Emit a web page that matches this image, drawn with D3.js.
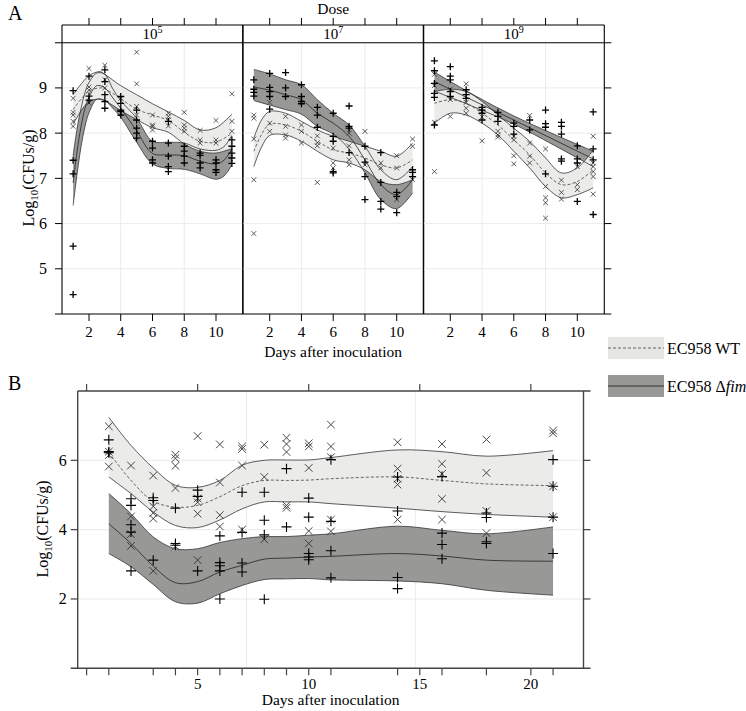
<!DOCTYPE html>
<html><head><meta charset="utf-8">
<script src="https://cdn.jsdelivr.net/npm/d3@7"></script>
<style>
body{margin:0;background:#fff}
svg{font-family:"Liberation Serif","DejaVu Serif",serif}
</style>
</head><body>
<svg id="chart" width="746" height="711"></svg>
<script>
// ---------------- DATA ----------------
const doseLabels = ["5", "7", "9"];           // 10^x
const daysA = [1,2,3,4,5,6,7,8,9,10,11];
const xTicksA = [2,4,6,8,10];
const yTicksA = [5,6,7,8,9];
const xGridA = [4,8];

// observed points (values per day, days 1..11)
const wt5 = [[8.77,8.46,8.40,8.26,8.15],[9.43,9.02,8.95,8.67],[9.5,9.18,9.0],[8.77,8.44],[9.79,9.09,8.59,8.40],[8.4,8.18,8.15,8.07],[8.44,8.37,8.29,8.16],[8.46,8.18,8.11,8.04],[8.06,7.85,7.78],[8.28,7.85,7.78],[8.87,8.26,8.04]];
const fim5 = [[8.94,7.40,7.10,5.50,4.43],[9.26,8.82,8.73],[9.4,9.14,8.85,8.7,8.55],[8.81,8.66,8.51,8.48,8.4],[8.51,8.29,8.11,8.0,7.89],[7.82,7.67,7.41,7.34],[8.26,7.78,7.49,7.26,7.15],[7.71,7.6,7.49,7.34],[7.56,7.51,7.34,7.23],[7.41,7.34,7.19,7.13],[7.85,7.71,7.56,7.45,7.33]];
const wt7 = [[8.40,8.33,7.87,6.97,5.78],[8.68,8.22,8.04],[8.37,8.15,7.96,7.89],[8.18,8.04,7.78],[7.94,7.79,7.72,6.91],[7.67,7.34,7.23],[8.0,7.72,7.41,7.30],[8.04,7.3],[7.34,7.23],[7.5,7.23,6.53],[7.87,7.71,6.97]];
const fim7 = [[9.18,8.97,8.9,8.82],[9.32,9.01,8.92,8.81,8.53],[9.34,9.0,8.81],[9.07,8.81,8.7,8.65],[8.57,8.4,8.13],[8.44,7.93,7.82,7.15,7.12],[8.6,8.15,8.11,7.57],[7.71,7.36,7.04,6.53],[7.57,6.91,6.49,6.32],[6.69,6.6,6.24],[7.19,7.13,7.04]];
const wt9 = [[9.3,9.05,8.24,7.15],[8.97,8.74,8.37],[9.09,8.68,8.55,8.44],[8.48,8.36,7.83],[8.04,7.96,7.91],[7.93,7.85,7.5,7.32],[8.39,7.78,7.49,7.34],[7.65,6.82,6.57,6.46,6.12],[6.96,6.69,6.54],[7.26,6.86,6.75],[7.93,7.34,7.26,7.15,7.04,6.65]];
const fim9 = [[9.6,9.38,9.1,8.88,8.79,8.18],[9.47,9.26,9.18,8.92,8.81],[8.96,8.85,8.77],[8.57,8.51,8.44,8.29],[8.46,8.37,8.26],[8.22,8.15,7.98],[8.29,8.07],[8.51,8.21,8.13,7.1],[8.24,8.15,7.98,7.43,7.38],[7.72,7.43,7.34,6.49],[8.47,7.65,7.41,6.2]];

// fitted curves (smooth + confidence band)
const fitWt5Days = [1,2,2.7,3,4,5,6,7,8,9,10,11];
const fitWt5Up   = [8.85,9.27,9.36,9.3,9.05,8.85,8.65,8.47,8.28,8.07,8.12,8.42];
const fitWt5Mid  = [8.52,8.93,9.0,8.98,8.76,8.53,8.4,8.28,8.02,7.82,7.8,8.0];
const fitWt5Lo   = [8.2,8.7,8.75,8.72,8.5,8.3,8.12,8.02,7.76,7.6,7.56,7.66];
const fitFim5Days = [1,1.25,1.5,1.75,2,2.5,3,3.5,4,5,6,7,8,9,10,10.5,11];
const fitFim5Up   = [7.5,8.1,8.55,8.9,9.12,9.33,9.3,8.98,8.72,8.33,7.82,7.8,7.78,7.65,7.62,7.7,7.95];
const fitFim5Mid  = [6.9,7.6,8.15,8.55,8.8,9.05,9.0,8.78,8.55,8.05,7.55,7.52,7.5,7.38,7.32,7.4,7.65];
const fitFim5Lo   = [6.4,7.1,7.7,8.15,8.45,8.75,8.72,8.55,8.35,7.8,7.32,7.22,7.2,7.1,6.98,7.05,7.3];

const fitWt7Days = [1,1.5,2,3,4,5,6,7,8,9,10,11];
const fitWt7Up   = [7.89,8.3,8.48,8.44,8.26,8.07,7.93,7.82,7.71,7.6,7.49,7.78];
const fitWt7Mid  = [7.6,7.98,8.2,8.18,8.04,7.82,7.63,7.56,7.45,7.3,7.23,7.41];
const fitWt7Lo   = [7.26,7.7,7.95,7.96,7.82,7.6,7.41,7.34,7.19,6.93,6.86,6.97];
const fitFim7Days = [1,2,3,4,5,6,7,8,9,10,11];
const fitFim7Up   = [9.41,9.31,9.18,9.07,8.74,8.44,8.18,7.71,7.19,6.97,7.26];
const fitFim7Mid  = [9.02,8.95,8.85,8.74,8.44,8.22,7.93,7.41,6.86,6.64,6.97];
const fitFim7Lo   = [8.72,8.62,8.52,8.42,8.15,7.98,7.65,7.12,6.53,6.33,6.68];

const fitWt9Days = [1,2,3,4,5,6,7,8,9,10,11];
const fitWt9Up   = [8.92,8.97,8.92,8.7,8.4,8.11,7.82,7.45,7.12,7.23,7.63];
const fitWt9Mid  = [8.66,8.74,8.66,8.44,8.18,7.85,7.52,7.12,6.86,6.93,7.19];
const fitWt9Lo   = [8.22,8.44,8.4,8.22,7.96,7.6,7.23,6.82,6.57,6.64,6.79];
const fitFim9Days = [1,3.5,6,8.5,11];
const fitFim9Up   = [9.35,8.84,8.38,7.98,7.6];
const fitFim9Mid  = [9.14,8.71,8.29,7.86,7.43];
const fitFim9Lo   = [8.93,8.58,8.20,7.74,7.26];

// Panel B
const daysB = [1,2,3,4,5,6,7,8,9,10,11,14,16,18,21];
const xTicksB = [5,10,15,20];
const xTopTicksB = [0,5,10,15,20];
const xMinorTicksB = [0,1,3,4,6,7,8,9,11,14,16,18,21];
const yTicksB = [2,4,6];
const xGridB = [7.2,14.8];
const wtB = [[6.98,6.25,6.15,5.82],[5.85,4.38,3.87,3.53],[5.56,4.67,4.48,4.32,2.81],[6.16,6.06,5.84,5.2,3.52],[6.7,4.9,4.79,4.46,3.12],[6.46,5.36,4.42,4.09],[6.40,6.33,5.85,4.0],[6.45,5.52,3.72],[6.65,6.47,6.24,4.70,4.63],[6.49,6.40,5.78,3.96,3.6],[7.03,6.40,6.09,4.29,3.95],[6.52,5.76,5.47,5.3,4.29],[6.47,5.9,5.61,4.89,4.29],[6.6,5.64,4.54,3.9],[6.86,6.78,5.25,4.36]];
const fimB = [[6.59,6.25,6.22],[4.89,4.70,4.14,3.93,2.81],[4.92,4.84,3.12],[4.62,3.6,3.55],[5.14,4.96,2.81],[3.82,3.05,2.96,2.81,2.0],[5.08,3.92,3.04,2.78],[5.08,4.27,3.85,1.99],[5.76,4.08],[4.91,4.36,3.31,3.21,3.13],[6.02,4.24,3.39,2.61],[5.52,4.54,2.62,2.30],[5.53,3.9,3.57,3.16],[4.48,4.35,3.65,3.6],[6.02,5.25,4.36,3.31]];
const fitWtBUp  = [7.24,6.43,5.78,5.28,5.22,5.42,5.86,6.0,6.01,6.01,6.08,6.3,6.25,6.12,6.28];
const fitWtBMid = [6.23,5.42,4.82,4.65,4.7,4.95,5.27,5.42,5.42,5.43,5.47,5.52,5.42,5.32,5.27];
const fitWtBLo  = [5.52,5.04,4.51,4.12,4.06,4.28,4.6,4.8,4.8,4.8,4.75,4.62,4.52,4.44,4.36];
const fitFimBUp  = [5.04,4.46,3.79,3.45,3.45,3.63,3.74,3.8,3.8,3.84,3.88,4.1,3.98,3.88,4.08];
const fitFimBMid = [4.17,3.6,2.95,2.47,2.5,2.78,2.97,3.15,3.18,3.21,3.23,3.31,3.24,3.12,3.09];
const fitFimBLo  = [3.31,2.93,2.42,1.92,1.88,2.15,2.39,2.56,2.58,2.59,2.55,2.52,2.44,2.25,2.11];

const legendLabels = ["EC958 WT", "EC958 \u0394", "fim"];

// ---------------- STYLE ----------------
const lightFill = "#ebebe9", darkFill = "#989896";
const svg = d3.select("#chart");

function toPts(days, vals){ return vals.flatMap((arr,i)=>arr.map(v=>({d:days[i], v}))); }
function toCurve(days, up, mid, lo){ return days.map((d,i)=>({d, up:up[i], mid:mid[i], lo:lo[i]})); }
const plusPath = (x,y,r)=>`M${x-r},${y}H${x+r}M${x},${y-r}V${y+r}`;
const crossPath = (x,y,r)=>`M${x-r},${y-r}L${x+r},${y+r}M${x-r},${y+r}L${x+r},${y-r}`;

function drawFits(g, x, y, wtC, fimC){
  const curve = d3.curveCatmullRom.alpha(0.5);
  const area = d3.area().x(d=>x(d.d)).y0(d=>y(d.lo)).y1(d=>y(d.up)).curve(curve);
  const lineU = d3.line().x(d=>x(d.d)).y(d=>y(d.up)).curve(curve);
  const lineL = d3.line().x(d=>x(d.d)).y(d=>y(d.lo)).curve(curve);
  const lineM = d3.line().x(d=>x(d.d)).y(d=>y(d.mid)).curve(curve);
  g.append("path").datum(fimC).attr("d",area).attr("fill",darkFill);
  g.append("path").datum(wtC).attr("d",area).attr("fill",lightFill);
  [fimC, wtC].forEach((c,k)=>{
    g.append("path").datum(c).attr("d",lineU).attr("fill","none").attr("stroke","#333").attr("stroke-width",0.8);
    g.append("path").datum(c).attr("d",lineL).attr("fill","none").attr("stroke","#333").attr("stroke-width",0.8);
    g.append("path").datum(c).attr("d",lineM).attr("fill","none").attr("stroke", k?"#444":"#222")
      .attr("stroke-width",0.8).attr("stroke-dasharray", k?"3,2":null);
  });
}
function drawPoints(g, x, y, wtP, fimP, rPlus, rCross, swP, swC){
  g.selectAll(null).data(wtP).join("path").attr("d",d=>crossPath(x(d.d),y(d.v),rCross))
    .attr("stroke","#333").attr("stroke-width",swC).attr("fill","none");
  g.selectAll(null).data(fimP).join("path").attr("d",d=>plusPath(x(d.d),y(d.v),rPlus))
    .attr("stroke","#000").attr("stroke-width",swP).attr("fill","none");
}

// ---------------- PANEL A ----------------
const panelLefts = [62, 242.7, 423.3];
const panelW = 181;
const topA = 42.7, botA = 314, stripTop = 25;
const yA = d3.scaleLinear().domain([4,10]).range([botA, topA]);
const pointsA = [[wt5,fim5],[wt7,fim7],[wt9,fim9]];
const fitsA = [
  [toCurve(fitWt5Days,fitWt5Up,fitWt5Mid,fitWt5Lo), toCurve(fitFim5Days,fitFim5Up,fitFim5Mid,fitFim5Lo)],
  [toCurve(fitWt7Days,fitWt7Up,fitWt7Mid,fitWt7Lo), toCurve(fitFim7Days,fitFim7Up,fitFim7Mid,fitFim7Lo)],
  [toCurve(fitWt9Days,fitWt9Up,fitWt9Mid,fitWt9Lo), toCurve(fitFim9Days,fitFim9Up,fitFim9Mid,fitFim9Lo)]
];
const gA = svg.append("g");
panelLefts.forEach((L,i)=>{
  const x = d3.scaleLinear().domain([0.3,11.7]).range([L, L+panelW]);
  const g = gA.append("g");
  const cp = "clipA"+i;
  svg.append("clipPath").attr("id",cp).append("rect").attr("x",L).attr("y",topA).attr("width",panelW).attr("height",botA-topA);
  // grid
  g.selectAll(null).data(yTicksA).join("line").attr("x1",L).attr("x2",L+panelW)
    .attr("y1",d=>yA(d)).attr("y2",d=>yA(d)).attr("stroke","#ebebeb").attr("stroke-width",1);
  g.selectAll(null).data(xGridA).join("line").attr("y1",topA).attr("y2",botA)
    .attr("x1",d=>x(d)).attr("x2",d=>x(d)).attr("stroke","#ebebeb").attr("stroke-width",1);
  const gc = g.append("g").attr("clip-path",`url(#${cp})`);
  drawFits(gc, x, yA, fitsA[i][0], fitsA[i][1]);
  drawPoints(gc, x, yA, toPts(daysA,pointsA[i][0]), toPts(daysA,pointsA[i][1]), 3.5, 2.4, 1.3, 0.8);
  // bottom axis ticks + labels
  g.selectAll(null).data(xTicksA).join("line").attr("x1",d=>x(d)).attr("x2",d=>x(d))
    .attr("y1",botA).attr("y2",botA+7).attr("stroke","#000");
  g.selectAll(null).data(xTicksA).join("text").attr("x",d=>x(d)).attr("y",botA+23)
    .attr("text-anchor","middle").attr("font-size",15).text(d=>d);
  // top ticks
  g.selectAll(null).data(xTicksA).join("line").attr("x1",d=>x(d)).attr("x2",d=>x(d))
    .attr("y1",stripTop).attr("y2",stripTop-7).attr("stroke","#000");
  // strip label
  const t = g.append("text").attr("x",L+panelW/2).attr("y",38.5).attr("text-anchor","middle").attr("font-size",15);
  t.append("tspan").text("10");
  t.append("tspan").attr("font-size",10).attr("dy",-6).text(doseLabels[i]);
  // borders
  [L, L+panelW].forEach(xx=>g.append("line").attr("x1",xx).attr("x2",xx).attr("y1",stripTop).attr("y2",botA).attr("stroke","#000").attr("stroke-width",1.1));
});
// frame lines A
const rightA = panelLefts[2]+panelW;
gA.append("line").attr("x1",panelLefts[0]).attr("x2",rightA).attr("y1",stripTop).attr("y2",stripTop).attr("stroke","#000").attr("stroke-width",1.1);
gA.append("line").attr("x1",panelLefts[0]-7).attr("x2",rightA+7).attr("y1",topA).attr("y2",topA).attr("stroke","#000").attr("stroke-width",1.1);
gA.append("line").attr("x1",panelLefts[0]-7).attr("x2",rightA+7).attr("y1",botA).attr("y2",botA).attr("stroke","#000").attr("stroke-width",1.1);
gA.selectAll(null).data(yTicksA).join("line").attr("x1",panelLefts[0]-7).attr("x2",panelLefts[0]).attr("y1",d=>yA(d)).attr("y2",d=>yA(d)).attr("stroke","#000");
gA.selectAll(null).data(yTicksA).join("line").attr("x1",rightA).attr("x2",rightA+7).attr("y1",d=>yA(d)).attr("y2",d=>yA(d)).attr("stroke","#000");
gA.selectAll(null).data(yTicksA).join("text").attr("x",panelLefts[0]-15).attr("y",d=>yA(d)+5.5)
  .attr("text-anchor","end").attr("font-size",16).text(d=>d);
svg.append("text").attr("x",8).attr("y",20).attr("font-size",20).text("A");
svg.append("text").attr("x",(panelLefts[0]+rightA)/2).attr("y",14).attr("text-anchor","middle").attr("font-size",15.5).text("Dose");
svg.append("text").attr("x",(panelLefts[0]+rightA)/2).attr("y",357).attr("text-anchor","middle").attr("font-size",15.5).text("Days after inoculation");
function yLabel(cx, cy){
  const t = svg.append("text").attr("transform",`translate(${cx},${cy}) rotate(-90)`).attr("text-anchor","middle").attr("font-size",16);
  t.append("tspan").text("Log");
  t.append("tspan").attr("font-size",11).attr("dy",4).text("10");
  t.append("tspan").attr("dy",-4).text("(CFUs/g)");
}
yLabel(34, 178);

// ---------------- PANEL B ----------------
const LB = 77.7, RB = 583.5, TB = 391, BB = 668.3;
const xB = d3.scaleLinear().domain([-0.4,22.37]).range([LB,RB]);
const yB = d3.scaleLinear().domain([0,8]).range([BB,TB]);
const gB = svg.append("g");
svg.append("clipPath").attr("id","clipB").append("rect").attr("x",LB).attr("y",TB).attr("width",RB-LB).attr("height",BB-TB);
gB.selectAll(null).data(yTicksB).join("line").attr("x1",LB).attr("x2",RB).attr("y1",d=>yB(d)).attr("y2",d=>yB(d)).attr("stroke","#ebebeb");
gB.selectAll(null).data(xGridB).join("line").attr("y1",TB).attr("y2",BB).attr("x1",d=>xB(d)).attr("x2",d=>xB(d)).attr("stroke","#ebebeb");
const gBc = gB.append("g").attr("clip-path","url(#clipB)");
drawFits(gBc, xB, yB, toCurve(daysB,fitWtBUp,fitWtBMid,fitWtBLo), toCurve(daysB,fitFimBUp,fitFimBMid,fitFimBLo));
drawPoints(gBc, xB, yB, toPts(daysB,wtB), toPts(daysB,fimB), 5, 3.8, 1.1, 0.9);
const bc = "#444";
gB.append("line").attr("x1",LB).attr("x2",LB).attr("y1",TB).attr("y2",BB).attr("stroke",bc).attr("stroke-width",1.4);
gB.append("line").attr("x1",RB).attr("x2",RB).attr("y1",TB).attr("y2",BB).attr("stroke",bc).attr("stroke-width",1.4);
gB.append("line").attr("x1",LB).attr("x2",RB+7).attr("y1",TB).attr("y2",TB).attr("stroke",bc).attr("stroke-width",1.4);
gB.append("line").attr("x1",LB-7).attr("x2",RB+7).attr("y1",BB).attr("y2",BB).attr("stroke",bc).attr("stroke-width",1.4);
gB.selectAll(null).data(xTopTicksB).join("line").attr("x1",d=>xB(d)).attr("x2",d=>xB(d)).attr("y1",TB).attr("y2",TB-7).attr("stroke",bc).attr("stroke-width",1.2);
gB.selectAll(null).data(xMinorTicksB.concat(xTicksB)).join("line").attr("x1",d=>xB(d)).attr("x2",d=>xB(d)).attr("y1",BB).attr("y2",BB+7).attr("stroke",bc).attr("stroke-width",1.2);
gB.selectAll(null).data(yTicksB).join("line").attr("x1",LB-7).attr("x2",LB).attr("y1",d=>yB(d)).attr("y2",d=>yB(d)).attr("stroke",bc).attr("stroke-width",1.2);
gB.selectAll(null).data(yTicksB).join("line").attr("x1",RB).attr("x2",RB+7).attr("y1",d=>yB(d)).attr("y2",d=>yB(d)).attr("stroke",bc).attr("stroke-width",1.2);
gB.selectAll(null).data(xTicksB).join("text").attr("x",d=>xB(d)).attr("y",BB+21).attr("text-anchor","middle").attr("font-size",15).text(d=>d);
gB.selectAll(null).data(yTicksB).join("text").attr("x",LB-11).attr("y",d=>yB(d)+5.5).attr("text-anchor","end").attr("font-size",16).text(d=>d);
svg.append("text").attr("x",8).attr("y",390).attr("font-size",20).text("B");
svg.append("text").attr("x",(LB+RB)/2).attr("y",705).attr("text-anchor","middle").attr("font-size",15.5).text("Days after inoculation");
yLabel(48, 529);

// ---------------- LEGEND ----------------
const lg = svg.append("g");
lg.append("rect").attr("x",608).attr("y",337).attr("width",56).attr("height",22).attr("fill","#e6e6e4");
lg.append("line").attr("x1",608).attr("x2",664).attr("y1",348).attr("y2",348).attr("stroke","#444").attr("stroke-width",0.8).attr("stroke-dasharray","3,2");
lg.append("text").attr("x",667).attr("y",354).attr("font-size",16).text(legendLabels[0]);
lg.append("rect").attr("x",608).attr("y",375).attr("width",56).attr("height",22).attr("fill",darkFill);
lg.append("line").attr("x1",608).attr("x2",664).attr("y1",386).attr("y2",386).attr("stroke","#222").attr("stroke-width",0.9);
const lt = lg.append("text").attr("x",667).attr("y",392).attr("font-size",16);
lt.append("tspan").text(legendLabels[1]);
lt.append("tspan").attr("font-style","italic").text(legendLabels[2]);
</script>
</body></html>
